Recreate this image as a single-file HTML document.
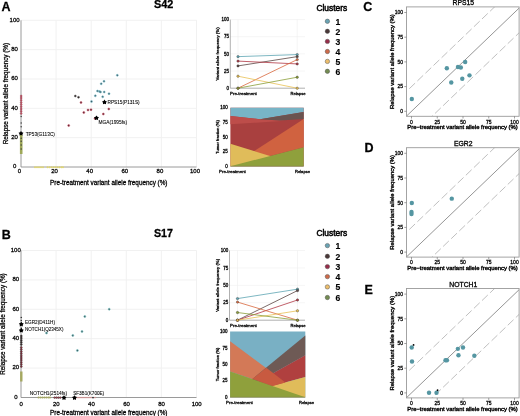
<!DOCTYPE html>
<html><head><meta charset="utf-8"><style>
html,body{margin:0;padding:0;background:#fff;}
svg{display:block;filter:blur(0.35px);}
text{font-family:"Liberation Sans", sans-serif;stroke:#000;stroke-width:0.26px;}
</style></head><body>
<svg width="520" height="416" viewBox="0 0 520 416">
<rect width="520" height="416" fill="#fff"/>
<text x="1.6" y="11.0" font-size="12.5" text-anchor="start" font-weight="bold" fill="#000" >A</text>
<text x="163.6" y="8.2" font-size="10.9" text-anchor="middle" font-weight="bold" fill="#000" >S42</text>
<line x1="56.10" y1="20.30" x2="56.10" y2="167.00" stroke="#efefef" stroke-width="0.9" />
<line x1="21.00" y1="137.66" x2="196.50" y2="137.66" stroke="#efefef" stroke-width="0.9" />
<line x1="91.20" y1="20.30" x2="91.20" y2="167.00" stroke="#efefef" stroke-width="0.9" />
<line x1="21.00" y1="108.32" x2="196.50" y2="108.32" stroke="#efefef" stroke-width="0.9" />
<line x1="126.30" y1="20.30" x2="126.30" y2="167.00" stroke="#efefef" stroke-width="0.9" />
<line x1="21.00" y1="78.98" x2="196.50" y2="78.98" stroke="#efefef" stroke-width="0.9" />
<line x1="161.40" y1="20.30" x2="161.40" y2="167.00" stroke="#efefef" stroke-width="0.9" />
<line x1="21.00" y1="49.64" x2="196.50" y2="49.64" stroke="#efefef" stroke-width="0.9" />
<line x1="196.50" y1="20.30" x2="196.50" y2="167.00" stroke="#efefef" stroke-width="0.9" />
<line x1="21.00" y1="20.30" x2="196.50" y2="20.30" stroke="#efefef" stroke-width="0.9" />
<line x1="21.00" y1="20.30" x2="21.00" y2="167.00" stroke="#8e8e8e" stroke-width="0.9" />
<line x1="21.00" y1="167.00" x2="196.50" y2="167.00" stroke="#8e8e8e" stroke-width="0.9" />
<text x="14.6" y="168.3" font-size="6" text-anchor="middle" font-weight="normal" fill="#000" >0</text>
<text x="19.5" y="173.3" font-size="6" text-anchor="middle" font-weight="normal" fill="#000" >0</text>
<text x="14.6" y="138.96" font-size="6" text-anchor="middle" font-weight="normal" fill="#000" >20</text>
<text x="54.6" y="173.3" font-size="6" text-anchor="middle" font-weight="normal" fill="#000" >20</text>
<text x="14.6" y="109.61999999999999" font-size="6" text-anchor="middle" font-weight="normal" fill="#000" >40</text>
<text x="89.7" y="173.3" font-size="6" text-anchor="middle" font-weight="normal" fill="#000" >40</text>
<text x="14.6" y="80.28" font-size="6" text-anchor="middle" font-weight="normal" fill="#000" >60</text>
<text x="124.8" y="173.3" font-size="6" text-anchor="middle" font-weight="normal" fill="#000" >60</text>
<text x="14.6" y="50.94" font-size="6" text-anchor="middle" font-weight="normal" fill="#000" >80</text>
<text x="159.9" y="173.3" font-size="6" text-anchor="middle" font-weight="normal" fill="#000" >80</text>
<text x="14.6" y="21.600000000000012" font-size="6" text-anchor="middle" font-weight="normal" fill="#000" >100</text>
<text x="195.0" y="173.3" font-size="6" text-anchor="middle" font-weight="normal" fill="#000" >100</text>
<text x="108.75" y="184.6" font-size="6.35" text-anchor="middle" font-weight="normal" fill="#000" >Pre-treatment variant allele frequency (%)</text>
<text transform="translate(7.8,93.65) rotate(-90)" font-size="6.32" text-anchor="middle" font-weight="normal" fill="#000" >Relapse variant allele frequency (%)</text>
<circle cx="117.30" cy="75.30" r="1.0" fill="#3f5d66" stroke="#78c0d0" stroke-width="0.55"/>
<circle cx="104.00" cy="81.30" r="1.0" fill="#3f5d66" stroke="#78c0d0" stroke-width="0.55"/>
<circle cx="101.20" cy="83.80" r="1.0" fill="#3f5d66" stroke="#78c0d0" stroke-width="0.55"/>
<circle cx="97.50" cy="91.00" r="1.0" fill="#3f5d66" stroke="#78c0d0" stroke-width="0.55"/>
<circle cx="99.50" cy="91.50" r="1.0" fill="#3f5d66" stroke="#78c0d0" stroke-width="0.55"/>
<circle cx="100.50" cy="92.00" r="1.0" fill="#3f5d66" stroke="#78c0d0" stroke-width="0.55"/>
<circle cx="104.20" cy="92.00" r="1.0" fill="#3f5d66" stroke="#78c0d0" stroke-width="0.55"/>
<circle cx="109.00" cy="93.70" r="1.0" fill="#3f5d66" stroke="#78c0d0" stroke-width="0.55"/>
<circle cx="95.30" cy="95.80" r="1.0" fill="#3f5d66" stroke="#78c0d0" stroke-width="0.55"/>
<circle cx="102.70" cy="96.80" r="1.0" fill="#3f5d66" stroke="#78c0d0" stroke-width="0.55"/>
<circle cx="91.50" cy="101.50" r="1.0" fill="#3f5d66" stroke="#78c0d0" stroke-width="0.55"/>
<circle cx="75.30" cy="96.00" r="1.0" fill="#2a2020" stroke="#666" stroke-width="0.5"/>
<circle cx="78.50" cy="97.30" r="1.0" fill="#2a2020" stroke="#666" stroke-width="0.5"/>
<circle cx="81.00" cy="102.50" r="1.0" fill="#5a2030" stroke="#d05a6a" stroke-width="0.55"/>
<circle cx="88.00" cy="110.00" r="1.0" fill="#5a2030" stroke="#d05a6a" stroke-width="0.55"/>
<circle cx="91.00" cy="109.70" r="1.0" fill="#5a2030" stroke="#d05a6a" stroke-width="0.55"/>
<circle cx="83.80" cy="112.50" r="1.0" fill="#5a2030" stroke="#d05a6a" stroke-width="0.55"/>
<circle cx="103.30" cy="114.00" r="1.0" fill="#5a2030" stroke="#d05a6a" stroke-width="0.55"/>
<circle cx="108.80" cy="109.00" r="1.0" fill="#5a2030" stroke="#d05a6a" stroke-width="0.55"/>
<circle cx="68.70" cy="125.50" r="1.0" fill="#5a2030" stroke="#d05a6a" stroke-width="0.55"/>
<circle cx="95.00" cy="118.50" r="1.0" fill="#5a2030" stroke="#d05a6a" stroke-width="0.55"/>
<line x1="21.20" y1="134.80" x2="21.20" y2="154.00" stroke="#9ea858" stroke-width="2.6" />
<circle cx="21.20" cy="96.00" r="1.0" fill="#c25668" stroke="#8a3040" stroke-width="0.3"/>
<circle cx="21.20" cy="98.00" r="1.0" fill="#c25668" stroke="#8a3040" stroke-width="0.3"/>
<circle cx="21.20" cy="100.20" r="1.0" fill="#c25668" stroke="#8a3040" stroke-width="0.3"/>
<circle cx="21.20" cy="102.40" r="1.0" fill="#c25668" stroke="#8a3040" stroke-width="0.3"/>
<circle cx="21.20" cy="104.60" r="1.0" fill="#c25668" stroke="#8a3040" stroke-width="0.3"/>
<circle cx="21.20" cy="106.80" r="1.0" fill="#c25668" stroke="#8a3040" stroke-width="0.3"/>
<circle cx="21.20" cy="109.00" r="1.0" fill="#c25668" stroke="#8a3040" stroke-width="0.3"/>
<circle cx="21.20" cy="111.20" r="1.0" fill="#c25668" stroke="#8a3040" stroke-width="0.3"/>
<circle cx="21.20" cy="113.40" r="1.0" fill="#c25668" stroke="#8a3040" stroke-width="0.3"/>
<circle cx="21.20" cy="116.50" r="0.75" fill="#444" />
<circle cx="21.20" cy="123.00" r="0.75" fill="#444" />
<circle cx="21.20" cy="126.70" r="0.75" fill="#444" />
<circle cx="21.20" cy="138.30" r="0.75" fill="#444" />
<circle cx="21.20" cy="141.20" r="0.75" fill="#444" />
<circle cx="21.20" cy="145.00" r="0.75" fill="#444" />
<circle cx="21.20" cy="149.00" r="0.75" fill="#444" />
<circle cx="35.00" cy="167.20" r="0.95" fill="#e0d670" />
<circle cx="37.00" cy="167.20" r="0.95" fill="#e0d670" />
<circle cx="39.00" cy="167.20" r="0.95" fill="#e0d670" />
<circle cx="41.00" cy="167.20" r="0.95" fill="#e0d670" />
<circle cx="43.00" cy="167.20" r="0.95" fill="#e0d670" />
<circle cx="47.50" cy="167.20" r="0.95" fill="#e0d670" />
<circle cx="49.50" cy="167.20" r="0.95" fill="#e0d670" />
<circle cx="51.50" cy="167.20" r="0.95" fill="#e0d670" />
<circle cx="53.50" cy="167.20" r="0.95" fill="#e0d670" />
<circle cx="55.50" cy="167.20" r="0.95" fill="#e0d670" />
<circle cx="57.50" cy="167.20" r="0.95" fill="#e0d670" />
<circle cx="59.50" cy="167.20" r="0.95" fill="#e0d670" />
<circle cx="61.50" cy="167.20" r="0.95" fill="#e0d670" />
<circle cx="63.00" cy="167.20" r="0.95" fill="#e0d670" />
<polygon points="104.50,99.60 105.42,100.94 106.97,101.40 105.98,102.68 106.03,104.30 104.50,103.76 102.97,104.30 103.02,102.68 102.03,101.40 103.58,100.94" fill="#000" />
<polygon points="96.50,115.40 97.42,116.74 98.97,117.20 97.98,118.48 98.03,120.10 96.50,119.56 94.97,120.10 95.02,118.48 94.03,117.20 95.58,116.74" fill="#000" />
<polygon points="21.00,130.90 21.92,132.24 23.47,132.70 22.48,133.98 22.53,135.60 21.00,135.06 19.47,135.60 19.52,133.98 18.53,132.70 20.08,132.24" fill="#000" />
<text x="107.6" y="103.7" font-size="4.7" text-anchor="start" font-weight="normal" fill="#000" style="stroke-width:0.08px">RPS15(P131S)</text>
<text x="98.5" y="123.7" font-size="4.8" text-anchor="start" font-weight="normal" fill="#000" style="stroke-width:0.08px">MGA(1995fs)</text>
<text x="25.7" y="136.0" font-size="4.75" text-anchor="start" font-weight="normal" fill="#000" style="stroke-width:0.08px">TP53(G113C)</text>
<line x1="230.30" y1="71.05" x2="305.00" y2="71.05" stroke="#efefef" stroke-width="0.6" />
<line x1="230.30" y1="53.90" x2="305.00" y2="53.90" stroke="#efefef" stroke-width="0.6" />
<line x1="230.30" y1="36.75" x2="305.00" y2="36.75" stroke="#efefef" stroke-width="0.6" />
<line x1="230.30" y1="19.60" x2="305.00" y2="19.60" stroke="#efefef" stroke-width="0.6" />
<line x1="238.00" y1="19.60" x2="238.00" y2="88.20" stroke="#efefef" stroke-width="0.6" />
<line x1="297.20" y1="19.60" x2="297.20" y2="88.20" stroke="#efefef" stroke-width="0.6" />
<line x1="230.30" y1="19.60" x2="230.30" y2="88.20" stroke="#8e8e8e" stroke-width="0.7" />
<line x1="230.30" y1="88.20" x2="305.00" y2="88.20" stroke="#8e8e8e" stroke-width="0.7" />
<text x="229.10000000000002" y="89.8" font-size="4.5" text-anchor="end" font-weight="normal" fill="#000" >0</text>
<text x="229.10000000000002" y="72.65" font-size="4.5" text-anchor="end" font-weight="normal" fill="#000" >25</text>
<text x="229.10000000000002" y="55.50000000000001" font-size="4.5" text-anchor="end" font-weight="normal" fill="#000" >50</text>
<text x="229.10000000000002" y="38.35" font-size="4.5" text-anchor="end" font-weight="normal" fill="#000" >75</text>
<text x="229.10000000000002" y="21.20000000000001" font-size="4.5" text-anchor="end" font-weight="normal" fill="#000" >100</text>
<line x1="238.00" y1="56.64" x2="297.20" y2="54.59" stroke="#5fa6b4" stroke-width="0.9" stroke-opacity="0.9"/>
<line x1="238.00" y1="65.91" x2="297.20" y2="56.64" stroke="#5d4845" stroke-width="0.9" stroke-opacity="0.9"/>
<line x1="238.00" y1="61.10" x2="297.20" y2="63.92" stroke="#b23a46" stroke-width="0.9" stroke-opacity="0.9"/>
<line x1="238.00" y1="88.20" x2="297.20" y2="59.59" stroke="#d9693f" stroke-width="0.9" stroke-opacity="0.9"/>
<line x1="238.00" y1="76.20" x2="297.20" y2="88.20" stroke="#e9c157" stroke-width="0.9" stroke-opacity="0.9"/>
<line x1="238.00" y1="88.20" x2="297.20" y2="77.22" stroke="#8c9e3a" stroke-width="0.9" stroke-opacity="0.9"/>
<circle cx="238.00" cy="56.64" r="1.2" fill="#5fa6b4" stroke="#333" stroke-width="0.5" stroke-opacity="0.75"/>
<circle cx="297.20" cy="54.59" r="1.2" fill="#5fa6b4" stroke="#333" stroke-width="0.5" stroke-opacity="0.75"/>
<circle cx="238.00" cy="65.91" r="1.2" fill="#5d4845" stroke="#333" stroke-width="0.5" stroke-opacity="0.75"/>
<circle cx="297.20" cy="56.64" r="1.2" fill="#5d4845" stroke="#333" stroke-width="0.5" stroke-opacity="0.75"/>
<circle cx="238.00" cy="61.10" r="1.2" fill="#b23a46" stroke="#333" stroke-width="0.5" stroke-opacity="0.75"/>
<circle cx="297.20" cy="63.92" r="1.2" fill="#b23a46" stroke="#333" stroke-width="0.5" stroke-opacity="0.75"/>
<circle cx="238.00" cy="88.20" r="1.2" fill="#d9693f" stroke="#333" stroke-width="0.5" stroke-opacity="0.75"/>
<circle cx="297.20" cy="59.59" r="1.2" fill="#d9693f" stroke="#333" stroke-width="0.5" stroke-opacity="0.75"/>
<circle cx="238.00" cy="76.20" r="1.2" fill="#e9c157" stroke="#333" stroke-width="0.5" stroke-opacity="0.75"/>
<circle cx="297.20" cy="88.20" r="1.2" fill="#e9c157" stroke="#333" stroke-width="0.5" stroke-opacity="0.75"/>
<circle cx="238.00" cy="88.20" r="1.2" fill="#8c9e3a" stroke="#333" stroke-width="0.5" stroke-opacity="0.75"/>
<circle cx="297.20" cy="77.22" r="1.2" fill="#8c9e3a" stroke="#333" stroke-width="0.5" stroke-opacity="0.75"/>
<text x="230.0" y="95.3" font-size="4.4" text-anchor="start" font-weight="normal" fill="#000" >Pre-treatment</text>
<text x="305.5" y="95.3" font-size="4.1" text-anchor="end" font-weight="normal" fill="#000" >Relapse</text>
<text transform="translate(218.8,53.900000000000006) rotate(-90)" font-size="4.35" text-anchor="middle" font-weight="normal" fill="#000" >Variant allele frequency (%)</text>
<polygon points="230.40,107.80 303.70,107.80 303.70,166.30 230.40,166.30" fill="#a9403f" />
<polygon points="230.40,107.80 303.70,107.80 303.70,111.90 260.00,119.20 230.40,116.00" fill="#78b4c6" />
<polygon points="230.40,116.00 260.00,119.20 285.00,120.80 230.40,124.30" fill="#bd4d4a" />
<polygon points="260.00,119.20 303.70,111.90 303.70,119.10 280.00,120.50" fill="#6a5450" />
<polygon points="230.40,166.30 303.70,119.10 303.70,147.20" fill="#d06240" />
<polygon points="230.40,143.80 303.70,166.30 230.40,166.30" fill="#e0bc5a" />
<polygon points="230.40,166.30 303.70,147.20 303.70,166.30" fill="#8fa03c" />
<line x1="230.40" y1="166.30" x2="303.70" y2="166.30" stroke="#7a7a5a" stroke-width="0.6" />
<text x="227.8" y="167.9" font-size="4.5" text-anchor="end" font-weight="normal" fill="#000" >0</text>
<text x="227.8" y="153.275" font-size="4.5" text-anchor="end" font-weight="normal" fill="#000" >25</text>
<text x="227.8" y="138.65" font-size="4.5" text-anchor="end" font-weight="normal" fill="#000" >50</text>
<text x="227.8" y="124.025" font-size="4.5" text-anchor="end" font-weight="normal" fill="#000" >75</text>
<text x="227.8" y="109.39999999999998" font-size="4.5" text-anchor="end" font-weight="normal" fill="#000" >100</text>
<text x="219.0" y="173.3" font-size="4.4" text-anchor="start" font-weight="normal" fill="#000" >Pre-treatment</text>
<text x="310.0" y="173.3" font-size="4.1" text-anchor="end" font-weight="normal" fill="#000" >Relapse</text>
<text transform="translate(218.9,137.05) rotate(-90)" font-size="4.1" text-anchor="middle" font-weight="normal" fill="#000" >Tumor fraction (%)</text>
<text x="316.4" y="11.200000000000001" font-size="8.4" text-anchor="start" font-weight="normal" fill="#000" style="stroke-width:0.5px">Clusters</text>
<circle cx="327.4" cy="21.3" r="2.2" fill="#6aa3b3" stroke="#505050" stroke-width="0.6" stroke-opacity="0.8"/>
<text x="335.4" y="24.5" font-size="8.6" text-anchor="start" font-weight="bold" fill="#000" style="stroke-width:0.15px">1</text>
<circle cx="327.4" cy="31.3" r="2.2" fill="#4a3838" stroke="#505050" stroke-width="0.6" stroke-opacity="0.8"/>
<text x="335.4" y="34.5" font-size="8.6" text-anchor="start" font-weight="bold" fill="#000" style="stroke-width:0.15px">2</text>
<circle cx="327.4" cy="41.4" r="2.2" fill="#962e4a" stroke="#505050" stroke-width="0.6" stroke-opacity="0.8"/>
<text x="335.4" y="44.6" font-size="8.6" text-anchor="start" font-weight="bold" fill="#000" style="stroke-width:0.15px">3</text>
<circle cx="327.4" cy="51.5" r="2.2" fill="#cc6a4a" stroke="#505050" stroke-width="0.6" stroke-opacity="0.8"/>
<text x="335.4" y="54.7" font-size="8.6" text-anchor="start" font-weight="bold" fill="#000" style="stroke-width:0.15px">4</text>
<circle cx="327.4" cy="61.4" r="2.2" fill="#ebbd6c" stroke="#505050" stroke-width="0.6" stroke-opacity="0.8"/>
<text x="335.4" y="64.6" font-size="8.6" text-anchor="start" font-weight="bold" fill="#000" style="stroke-width:0.15px">5</text>
<circle cx="327.4" cy="71.3" r="2.2" fill="#748c52" stroke="#505050" stroke-width="0.6" stroke-opacity="0.8"/>
<text x="335.4" y="74.5" font-size="8.6" text-anchor="start" font-weight="bold" fill="#000" style="stroke-width:0.15px">6</text>
<text x="1.8" y="239.0" font-size="12.5" text-anchor="start" font-weight="bold" fill="#000" >B</text>
<text x="163.5" y="236.8" font-size="10.7" text-anchor="middle" font-weight="bold" fill="#000" >S17</text>
<line x1="56.10" y1="250.50" x2="56.10" y2="397.50" stroke="#efefef" stroke-width="0.9" />
<line x1="21.00" y1="368.10" x2="196.50" y2="368.10" stroke="#efefef" stroke-width="0.9" />
<line x1="91.20" y1="250.50" x2="91.20" y2="397.50" stroke="#efefef" stroke-width="0.9" />
<line x1="21.00" y1="338.70" x2="196.50" y2="338.70" stroke="#efefef" stroke-width="0.9" />
<line x1="126.30" y1="250.50" x2="126.30" y2="397.50" stroke="#efefef" stroke-width="0.9" />
<line x1="21.00" y1="309.30" x2="196.50" y2="309.30" stroke="#efefef" stroke-width="0.9" />
<line x1="161.40" y1="250.50" x2="161.40" y2="397.50" stroke="#efefef" stroke-width="0.9" />
<line x1="21.00" y1="279.90" x2="196.50" y2="279.90" stroke="#efefef" stroke-width="0.9" />
<line x1="196.50" y1="250.50" x2="196.50" y2="397.50" stroke="#efefef" stroke-width="0.9" />
<line x1="21.00" y1="250.50" x2="196.50" y2="250.50" stroke="#efefef" stroke-width="0.9" />
<line x1="21.00" y1="250.50" x2="21.00" y2="397.50" stroke="#8e8e8e" stroke-width="0.9" />
<line x1="21.00" y1="397.50" x2="196.50" y2="397.50" stroke="#8e8e8e" stroke-width="0.9" />
<text x="15.8" y="398.8" font-size="6" text-anchor="middle" font-weight="normal" fill="#000" >0</text>
<text x="21.2" y="405.5" font-size="6" text-anchor="middle" font-weight="normal" fill="#000" >0</text>
<text x="15.8" y="369.40000000000003" font-size="6" text-anchor="middle" font-weight="normal" fill="#000" >20</text>
<text x="56.300000000000004" y="405.5" font-size="6" text-anchor="middle" font-weight="normal" fill="#000" >20</text>
<text x="15.8" y="340.0" font-size="6" text-anchor="middle" font-weight="normal" fill="#000" >40</text>
<text x="91.4" y="405.5" font-size="6" text-anchor="middle" font-weight="normal" fill="#000" >40</text>
<text x="15.8" y="310.6" font-size="6" text-anchor="middle" font-weight="normal" fill="#000" >60</text>
<text x="126.5" y="405.5" font-size="6" text-anchor="middle" font-weight="normal" fill="#000" >60</text>
<text x="15.8" y="281.2" font-size="6" text-anchor="middle" font-weight="normal" fill="#000" >80</text>
<text x="161.6" y="405.5" font-size="6" text-anchor="middle" font-weight="normal" fill="#000" >80</text>
<text x="15.8" y="251.8" font-size="6" text-anchor="middle" font-weight="normal" fill="#000" >100</text>
<text x="196.7" y="405.5" font-size="6" text-anchor="middle" font-weight="normal" fill="#000" >100</text>
<text x="108.75" y="414.6" font-size="6.35" text-anchor="middle" font-weight="normal" fill="#000" >Pre-treatment variant allele frequency (%)</text>
<text transform="translate(4.6,324.0) rotate(-90)" font-size="6.32" text-anchor="middle" font-weight="normal" fill="#000" >Relapse variant allele frequency (%)</text>
<circle cx="109.20" cy="309.20" r="1.0" fill="#3f5d62" stroke="#70c0c0" stroke-width="0.55"/>
<circle cx="84.80" cy="316.50" r="1.0" fill="#3f5d62" stroke="#70c0c0" stroke-width="0.55"/>
<circle cx="82.00" cy="331.50" r="1.0" fill="#3f5d62" stroke="#70c0c0" stroke-width="0.55"/>
<circle cx="72.80" cy="335.40" r="1.0" fill="#3f5d62" stroke="#70c0c0" stroke-width="0.55"/>
<circle cx="77.40" cy="350.50" r="1.0" fill="#3f5d62" stroke="#70c0c0" stroke-width="0.55"/>
<circle cx="46.50" cy="333.00" r="1.0" fill="#3f5d62" stroke="#70c0c0" stroke-width="0.55"/>
<line x1="21.30" y1="371.50" x2="21.30" y2="381.50" stroke="#a5a860" stroke-width="2.4" />
<circle cx="21.30" cy="317.50" r="0.8" fill="#333" />
<circle cx="21.30" cy="320.50" r="0.8" fill="#333" />
<circle cx="21.30" cy="328.30" r="0.8" fill="#333" />
<circle cx="21.30" cy="336.00" r="1.0" fill="#3a2c2c" stroke="#2a2a2a" stroke-width="0.4"/>
<circle cx="21.30" cy="338.10" r="1.0" fill="#3a2c2c" stroke="#2a2a2a" stroke-width="0.4"/>
<circle cx="21.30" cy="340.20" r="1.0" fill="#3a2c2c" stroke="#2a2a2a" stroke-width="0.4"/>
<circle cx="21.30" cy="342.30" r="1.0" fill="#3a2c2c" stroke="#2a2a2a" stroke-width="0.4"/>
<circle cx="21.30" cy="344.40" r="1.0" fill="#3a2c2c" stroke="#2a2a2a" stroke-width="0.4"/>
<circle cx="21.30" cy="347.50" r="1.0" fill="#8c2a3a" stroke="#2a2a2a" stroke-width="0.4"/>
<circle cx="21.30" cy="349.60" r="1.0" fill="#8c2a3a" stroke="#2a2a2a" stroke-width="0.4"/>
<circle cx="21.30" cy="351.70" r="1.0" fill="#8c2a3a" stroke="#2a2a2a" stroke-width="0.4"/>
<circle cx="21.30" cy="353.80" r="1.0" fill="#8c2a3a" stroke="#2a2a2a" stroke-width="0.4"/>
<circle cx="21.30" cy="355.90" r="1.0" fill="#8c2a3a" stroke="#2a2a2a" stroke-width="0.4"/>
<circle cx="21.30" cy="358.00" r="1.0" fill="#8c2a3a" stroke="#2a2a2a" stroke-width="0.4"/>
<circle cx="21.30" cy="360.10" r="1.0" fill="#8c2a3a" stroke="#2a2a2a" stroke-width="0.4"/>
<circle cx="21.30" cy="362.20" r="1.0" fill="#8c2a3a" stroke="#2a2a2a" stroke-width="0.4"/>
<circle cx="21.30" cy="364.30" r="1.0" fill="#8c2a3a" stroke="#2a2a2a" stroke-width="0.4"/>
<circle cx="21.30" cy="366.40" r="1.0" fill="#8c2a3a" stroke="#2a2a2a" stroke-width="0.4"/>
<circle cx="38.50" cy="397.60" r="1.0" fill="#a5a860" />
<circle cx="40.50" cy="397.60" r="1.0" fill="#a5a860" />
<circle cx="42.50" cy="397.60" r="1.0" fill="#a5a860" />
<circle cx="44.50" cy="397.60" r="1.0" fill="#a5a860" />
<circle cx="46.50" cy="397.60" r="1.0" fill="#a5a860" />
<circle cx="48.50" cy="397.60" r="1.0" fill="#a5a860" />
<circle cx="50.00" cy="397.60" r="1.0" fill="#a5a860" />
<circle cx="54.60" cy="397.60" r="0.9" fill="#b04050" stroke="#2a2a2a" stroke-width="0.4"/>
<circle cx="56.50" cy="397.60" r="0.9" fill="#b04050" stroke="#2a2a2a" stroke-width="0.4"/>
<circle cx="58.40" cy="397.60" r="0.9" fill="#b04050" stroke="#2a2a2a" stroke-width="0.4"/>
<circle cx="60.30" cy="397.60" r="0.9" fill="#b04050" stroke="#2a2a2a" stroke-width="0.4"/>
<circle cx="77.00" cy="397.60" r="0.8" fill="#d89090" />
<circle cx="79.00" cy="397.60" r="0.8" fill="#d89090" />
<circle cx="81.00" cy="397.60" r="0.8" fill="#d89090" />
<circle cx="83.00" cy="397.60" r="0.8" fill="#d89090" />
<circle cx="85.00" cy="397.60" r="0.8" fill="#d89090" />
<circle cx="87.00" cy="397.60" r="0.8" fill="#d89090" />
<circle cx="89.00" cy="397.60" r="0.8" fill="#d89090" />
<circle cx="91.00" cy="397.60" r="0.8" fill="#d89090" />
<circle cx="95.00" cy="397.60" r="0.8" fill="#d89090" />
<circle cx="93.00" cy="397.60" r="0.9" fill="#333" />
<polygon points="21.30,321.70 22.22,323.04 23.77,323.50 22.78,324.78 22.83,326.40 21.30,325.86 19.77,326.40 19.82,324.78 18.83,323.50 20.38,323.04" fill="#000" />
<polygon points="21.30,327.90 22.22,329.24 23.77,329.70 22.78,330.98 22.83,332.60 21.30,332.06 19.77,332.60 19.82,330.98 18.83,329.70 20.38,329.24" fill="#000" />
<polygon points="64.00,395.20 64.92,396.54 66.47,397.00 65.48,398.28 65.53,399.90 64.00,399.36 62.47,399.90 62.52,398.28 61.53,397.00 63.08,396.54" fill="#000" />
<polygon points="74.50,395.20 75.42,396.54 76.97,397.00 75.98,398.28 76.03,399.90 74.50,399.36 72.97,399.90 73.02,398.28 72.03,397.00 73.58,396.54" fill="#000" />
<text x="25.0" y="324.0" font-size="4.67" text-anchor="start" font-weight="normal" fill="#000" style="stroke-width:0.08px">EGR2(D411H)</text>
<text x="25.0" y="330.5" font-size="4.56" text-anchor="start" font-weight="normal" fill="#000" style="stroke-width:0.08px">NOTCH1(Q2345X)</text>
<text x="29.8" y="395.0" font-size="4.8" text-anchor="start" font-weight="normal" fill="#000" style="stroke-width:0.08px">NOTCH1(2514fs)</text>
<text x="73.2" y="395.0" font-size="4.6" text-anchor="start" font-weight="normal" fill="#000" style="stroke-width:0.08px">SF3B1(K700E)</text>
<line x1="229.50" y1="302.77" x2="305.00" y2="302.77" stroke="#efefef" stroke-width="0.6" />
<line x1="229.50" y1="285.35" x2="305.00" y2="285.35" stroke="#efefef" stroke-width="0.6" />
<line x1="229.50" y1="267.93" x2="305.00" y2="267.93" stroke="#efefef" stroke-width="0.6" />
<line x1="229.50" y1="250.50" x2="305.00" y2="250.50" stroke="#efefef" stroke-width="0.6" />
<line x1="237.50" y1="250.50" x2="237.50" y2="320.20" stroke="#efefef" stroke-width="0.6" />
<line x1="297.50" y1="250.50" x2="297.50" y2="320.20" stroke="#efefef" stroke-width="0.6" />
<line x1="229.50" y1="250.50" x2="229.50" y2="320.20" stroke="#8e8e8e" stroke-width="0.7" />
<line x1="229.50" y1="320.20" x2="305.00" y2="320.20" stroke="#8e8e8e" stroke-width="0.7" />
<text x="228.3" y="321.8" font-size="4.5" text-anchor="end" font-weight="normal" fill="#000" >0</text>
<text x="228.3" y="304.375" font-size="4.5" text-anchor="end" font-weight="normal" fill="#000" >25</text>
<text x="228.3" y="286.95000000000005" font-size="4.5" text-anchor="end" font-weight="normal" fill="#000" >50</text>
<text x="228.3" y="269.52500000000003" font-size="4.5" text-anchor="end" font-weight="normal" fill="#000" >75</text>
<text x="228.3" y="252.1" font-size="4.5" text-anchor="end" font-weight="normal" fill="#000" >100</text>
<line x1="237.50" y1="298.59" x2="297.50" y2="289.18" stroke="#5fa6b4" stroke-width="0.9" stroke-opacity="0.9"/>
<line x1="237.50" y1="320.20" x2="297.50" y2="290.58" stroke="#5d4845" stroke-width="0.9" stroke-opacity="0.9"/>
<line x1="237.50" y1="320.20" x2="297.50" y2="299.99" stroke="#b23a46" stroke-width="0.9" stroke-opacity="0.9"/>
<line x1="237.50" y1="302.08" x2="297.50" y2="320.20" stroke="#d9693f" stroke-width="0.9" stroke-opacity="0.9"/>
<line x1="237.50" y1="320.20" x2="297.50" y2="310.79" stroke="#e9c157" stroke-width="0.9" stroke-opacity="0.9"/>
<line x1="237.50" y1="312.53" x2="297.50" y2="320.20" stroke="#8c9e3a" stroke-width="0.9" stroke-opacity="0.9"/>
<circle cx="237.50" cy="298.59" r="1.2" fill="#5fa6b4" stroke="#333" stroke-width="0.5" stroke-opacity="0.75"/>
<circle cx="297.50" cy="289.18" r="1.2" fill="#5fa6b4" stroke="#333" stroke-width="0.5" stroke-opacity="0.75"/>
<circle cx="237.50" cy="320.20" r="1.2" fill="#5d4845" stroke="#333" stroke-width="0.5" stroke-opacity="0.75"/>
<circle cx="297.50" cy="290.58" r="1.2" fill="#5d4845" stroke="#333" stroke-width="0.5" stroke-opacity="0.75"/>
<circle cx="237.50" cy="320.20" r="1.2" fill="#b23a46" stroke="#333" stroke-width="0.5" stroke-opacity="0.75"/>
<circle cx="297.50" cy="299.99" r="1.2" fill="#b23a46" stroke="#333" stroke-width="0.5" stroke-opacity="0.75"/>
<circle cx="237.50" cy="302.08" r="1.2" fill="#d9693f" stroke="#333" stroke-width="0.5" stroke-opacity="0.75"/>
<circle cx="297.50" cy="320.20" r="1.2" fill="#d9693f" stroke="#333" stroke-width="0.5" stroke-opacity="0.75"/>
<circle cx="237.50" cy="320.20" r="1.2" fill="#e9c157" stroke="#333" stroke-width="0.5" stroke-opacity="0.75"/>
<circle cx="297.50" cy="310.79" r="1.2" fill="#e9c157" stroke="#333" stroke-width="0.5" stroke-opacity="0.75"/>
<circle cx="237.50" cy="312.53" r="1.2" fill="#8c9e3a" stroke="#333" stroke-width="0.5" stroke-opacity="0.75"/>
<circle cx="297.50" cy="320.20" r="1.2" fill="#8c9e3a" stroke="#333" stroke-width="0.5" stroke-opacity="0.75"/>
<text x="230.0" y="326.6" font-size="4.4" text-anchor="start" font-weight="normal" fill="#000" >Pre-treatment</text>
<text x="305.5" y="326.6" font-size="4.1" text-anchor="end" font-weight="normal" fill="#000" >Relapse</text>
<text transform="translate(218.8,285.35) rotate(-90)" font-size="4.35" text-anchor="middle" font-weight="normal" fill="#000" >Variant allele frequency (%)</text>
<polygon points="230.10,331.50 305.30,331.50 305.30,397.30 230.10,397.30" fill="#79b0c4" />
<polygon points="230.10,341.20 230.10,371.50 305.30,397.30" fill="#d37957" />
<polygon points="230.10,397.30 305.30,335.60 305.30,355.20" fill="#6e5a55" />
<polygon points="230.10,397.30 305.30,355.20 305.30,377.00" fill="#b0403f" />
<polygon points="230.10,397.30 305.30,377.00 305.30,397.30" fill="#e0bc5a" />
<polygon points="266.30,367.70 252.30,379.10 272.30,385.90 285.40,382.50" fill="#c85a40" />
<polygon points="230.10,371.50 230.10,397.30 305.30,397.30" fill="#8fa03c" />
<line x1="230.10" y1="397.30" x2="305.30" y2="397.30" stroke="#7a7a5a" stroke-width="0.6" />
<text x="227.5" y="398.90000000000003" font-size="4.5" text-anchor="end" font-weight="normal" fill="#000" >0</text>
<text x="227.5" y="382.45000000000005" font-size="4.5" text-anchor="end" font-weight="normal" fill="#000" >25</text>
<text x="227.5" y="366.0" font-size="4.5" text-anchor="end" font-weight="normal" fill="#000" >50</text>
<text x="227.5" y="349.55" font-size="4.5" text-anchor="end" font-weight="normal" fill="#000" >75</text>
<text x="227.5" y="333.1" font-size="4.5" text-anchor="end" font-weight="normal" fill="#000" >100</text>
<text x="226.0" y="404.3" font-size="4.4" text-anchor="start" font-weight="normal" fill="#000" >Pre-treatment</text>
<text x="314.0" y="404.3" font-size="4.1" text-anchor="end" font-weight="normal" fill="#000" >Relapse</text>
<text transform="translate(218.8,364.4) rotate(-90)" font-size="4.1" text-anchor="middle" font-weight="normal" fill="#000" >Tumor fraction (%)</text>
<text x="316.4" y="235.9" font-size="8.4" text-anchor="start" font-weight="normal" fill="#000" style="stroke-width:0.5px">Clusters</text>
<circle cx="327.4" cy="245.6" r="2.2" fill="#6aa3b3" stroke="#505050" stroke-width="0.6" stroke-opacity="0.8"/>
<text x="335.4" y="248.79999999999998" font-size="8.6" text-anchor="start" font-weight="bold" fill="#000" style="stroke-width:0.15px">1</text>
<circle cx="327.4" cy="256.3" r="2.2" fill="#4a3838" stroke="#505050" stroke-width="0.6" stroke-opacity="0.8"/>
<text x="335.4" y="259.5" font-size="8.6" text-anchor="start" font-weight="bold" fill="#000" style="stroke-width:0.15px">2</text>
<circle cx="327.4" cy="266.6" r="2.2" fill="#962e4a" stroke="#505050" stroke-width="0.6" stroke-opacity="0.8"/>
<text x="335.4" y="269.8" font-size="8.6" text-anchor="start" font-weight="bold" fill="#000" style="stroke-width:0.15px">3</text>
<circle cx="327.4" cy="276.6" r="2.2" fill="#cc6a4a" stroke="#505050" stroke-width="0.6" stroke-opacity="0.8"/>
<text x="335.4" y="279.8" font-size="8.6" text-anchor="start" font-weight="bold" fill="#000" style="stroke-width:0.15px">4</text>
<circle cx="327.4" cy="286.9" r="2.2" fill="#ebbd6c" stroke="#505050" stroke-width="0.6" stroke-opacity="0.8"/>
<text x="335.4" y="290.09999999999997" font-size="8.6" text-anchor="start" font-weight="bold" fill="#000" style="stroke-width:0.15px">5</text>
<circle cx="327.4" cy="297.5" r="2.2" fill="#748c52" stroke="#505050" stroke-width="0.6" stroke-opacity="0.8"/>
<text x="335.4" y="300.7" font-size="8.6" text-anchor="start" font-weight="bold" fill="#000" style="stroke-width:0.15px">6</text>
<text x="363.2" y="11.4" font-size="12.5" text-anchor="start" font-weight="bold" fill="#000" >C</text>
<text x="364.5" y="152.0" font-size="12.5" text-anchor="start" font-weight="bold" fill="#000" >D</text>
<text x="364.5" y="294.2" font-size="12.5" text-anchor="start" font-weight="bold" fill="#000" >E</text>
<clipPath id="cl0"><rect x="406.5" y="6.9" width="112.60000000000002" height="109.39999999999999"/></clipPath>
<line x1="401.20" y1="121.18" x2="524.80" y2="2.62" stroke="#7a7a7a" stroke-width="0.8" clip-path="url(#cl0)"/>
<line x1="401.20" y1="96.48" x2="524.80" y2="-22.08" stroke="#b8b8b8" stroke-width="0.9" clip-path="url(#cl0)" stroke-dasharray="8 3.2"/>
<line x1="426.95" y1="121.18" x2="550.55" y2="2.62" stroke="#b8b8b8" stroke-width="0.9" clip-path="url(#cl0)" stroke-dasharray="8 3.2"/>
<rect x="406.5" y="6.9" width="112.60000000000002" height="109.39999999999999" fill="none" stroke="#9a9a9a" stroke-width="0.9"/>
<line x1="404.30" y1="111.30" x2="406.50" y2="111.30" stroke="#777" stroke-width="0.7" />
<text x="403.1" y="113.1" font-size="5" text-anchor="end" font-weight="normal" fill="#000" >0</text>
<line x1="411.50" y1="116.30" x2="411.50" y2="118.50" stroke="#777" stroke-width="0.7" />
<text x="411.5" y="123.6" font-size="5" text-anchor="middle" font-weight="normal" fill="#000" >0</text>
<line x1="404.30" y1="86.60" x2="406.50" y2="86.60" stroke="#777" stroke-width="0.7" />
<text x="403.1" y="88.39999999999999" font-size="5" text-anchor="end" font-weight="normal" fill="#000" >25</text>
<line x1="437.25" y1="116.30" x2="437.25" y2="118.50" stroke="#777" stroke-width="0.7" />
<text x="437.25" y="123.6" font-size="5" text-anchor="middle" font-weight="normal" fill="#000" >25</text>
<line x1="404.30" y1="61.90" x2="406.50" y2="61.90" stroke="#777" stroke-width="0.7" />
<text x="403.1" y="63.699999999999996" font-size="5" text-anchor="end" font-weight="normal" fill="#000" >50</text>
<line x1="463.00" y1="116.30" x2="463.00" y2="118.50" stroke="#777" stroke-width="0.7" />
<text x="463.0" y="123.6" font-size="5" text-anchor="middle" font-weight="normal" fill="#000" >50</text>
<line x1="404.30" y1="37.20" x2="406.50" y2="37.20" stroke="#777" stroke-width="0.7" />
<text x="403.1" y="39.0" font-size="5" text-anchor="end" font-weight="normal" fill="#000" >75</text>
<line x1="488.75" y1="116.30" x2="488.75" y2="118.50" stroke="#777" stroke-width="0.7" />
<text x="488.75" y="123.6" font-size="5" text-anchor="middle" font-weight="normal" fill="#000" >75</text>
<line x1="404.30" y1="12.50" x2="406.50" y2="12.50" stroke="#777" stroke-width="0.7" />
<text x="403.1" y="14.3" font-size="5" text-anchor="end" font-weight="normal" fill="#000" >100</text>
<line x1="514.50" y1="116.30" x2="514.50" y2="118.50" stroke="#777" stroke-width="0.7" />
<text x="514.5" y="123.6" font-size="5" text-anchor="middle" font-weight="normal" fill="#000" >100</text>
<text x="462.5" y="129.3" font-size="5.9" text-anchor="middle" font-weight="normal" fill="#000" style="stroke-width:0.36px">Pre−treatment variant allele frequency (%)</text>
<text transform="translate(394.1,61.6) rotate(-90)" font-size="5.9" text-anchor="middle" font-weight="normal" fill="#000" style="stroke-width:0.32px">Relapse variant allele frequency (%)</text>
<text x="463.3" y="5.1000000000000005" font-size="6.8" text-anchor="middle" font-weight="normal" fill="#000" style="stroke-width:0.3px">RPS15</text>
<circle cx="411.81" cy="99.05" r="2.2" fill="#5596a2" />
<circle cx="446.83" cy="68.22" r="2.2" fill="#5596a2" />
<circle cx="457.95" cy="67.04" r="2.2" fill="#5596a2" />
<circle cx="460.84" cy="67.53" r="2.2" fill="#5596a2" />
<circle cx="465.16" cy="62.00" r="2.2" fill="#5596a2" />
<circle cx="469.49" cy="75.34" r="2.2" fill="#5596a2" />
<circle cx="462.28" cy="78.79" r="2.2" fill="#5596a2" />
<circle cx="451.26" cy="82.55" r="2.2" fill="#5596a2" />
<clipPath id="cl140"><rect x="406.5" y="147.70000000000002" width="112.60000000000002" height="109.4"/></clipPath>
<line x1="401.20" y1="261.98" x2="524.80" y2="143.42" stroke="#7a7a7a" stroke-width="0.8" clip-path="url(#cl140)"/>
<line x1="401.20" y1="237.28" x2="524.80" y2="118.72" stroke="#b8b8b8" stroke-width="0.9" clip-path="url(#cl140)" stroke-dasharray="8 3.2"/>
<line x1="426.95" y1="261.98" x2="550.55" y2="143.42" stroke="#b8b8b8" stroke-width="0.9" clip-path="url(#cl140)" stroke-dasharray="8 3.2"/>
<rect x="406.5" y="147.70000000000002" width="112.60000000000002" height="109.4" fill="none" stroke="#9a9a9a" stroke-width="0.9"/>
<line x1="404.30" y1="252.10" x2="406.50" y2="252.10" stroke="#777" stroke-width="0.7" />
<text x="403.1" y="253.90000000000003" font-size="5" text-anchor="end" font-weight="normal" fill="#000" >0</text>
<line x1="411.50" y1="257.10" x2="411.50" y2="259.30" stroke="#777" stroke-width="0.7" />
<text x="411.5" y="264.40000000000003" font-size="5" text-anchor="middle" font-weight="normal" fill="#000" >0</text>
<line x1="404.30" y1="227.40" x2="406.50" y2="227.40" stroke="#777" stroke-width="0.7" />
<text x="403.1" y="229.20000000000005" font-size="5" text-anchor="end" font-weight="normal" fill="#000" >25</text>
<line x1="437.25" y1="257.10" x2="437.25" y2="259.30" stroke="#777" stroke-width="0.7" />
<text x="437.25" y="264.40000000000003" font-size="5" text-anchor="middle" font-weight="normal" fill="#000" >25</text>
<line x1="404.30" y1="202.70" x2="406.50" y2="202.70" stroke="#777" stroke-width="0.7" />
<text x="403.1" y="204.50000000000003" font-size="5" text-anchor="end" font-weight="normal" fill="#000" >50</text>
<line x1="463.00" y1="257.10" x2="463.00" y2="259.30" stroke="#777" stroke-width="0.7" />
<text x="463.0" y="264.40000000000003" font-size="5" text-anchor="middle" font-weight="normal" fill="#000" >50</text>
<line x1="404.30" y1="178.00" x2="406.50" y2="178.00" stroke="#777" stroke-width="0.7" />
<text x="403.1" y="179.80000000000004" font-size="5" text-anchor="end" font-weight="normal" fill="#000" >75</text>
<line x1="488.75" y1="257.10" x2="488.75" y2="259.30" stroke="#777" stroke-width="0.7" />
<text x="488.75" y="264.40000000000003" font-size="5" text-anchor="middle" font-weight="normal" fill="#000" >75</text>
<line x1="404.30" y1="153.30" x2="406.50" y2="153.30" stroke="#777" stroke-width="0.7" />
<text x="403.1" y="155.10000000000002" font-size="5" text-anchor="end" font-weight="normal" fill="#000" >100</text>
<line x1="514.50" y1="257.10" x2="514.50" y2="259.30" stroke="#777" stroke-width="0.7" />
<text x="514.5" y="264.40000000000003" font-size="5" text-anchor="middle" font-weight="normal" fill="#000" >100</text>
<text x="462.5" y="270.1" font-size="5.9" text-anchor="middle" font-weight="normal" fill="#000" style="stroke-width:0.36px">Pre−treatment variant allele frequency (%)</text>
<text transform="translate(394.1,202.40000000000003) rotate(-90)" font-size="5.9" text-anchor="middle" font-weight="normal" fill="#000" style="stroke-width:0.32px">Relapse variant allele frequency (%)</text>
<text x="463.3" y="145.9" font-size="6.8" text-anchor="middle" font-weight="normal" fill="#000" style="stroke-width:0.3px">EGR2</text>
<circle cx="411.81" cy="203.00" r="2.2" fill="#5596a2" />
<circle cx="411.50" cy="211.99" r="2.2" fill="#5596a2" />
<circle cx="411.50" cy="213.96" r="2.2" fill="#5596a2" />
<circle cx="451.77" cy="198.65" r="2.2" fill="#5596a2" />
<clipPath id="cl281"><rect x="406.5" y="288.5" width="112.60000000000002" height="109.40000000000003"/></clipPath>
<line x1="401.20" y1="402.78" x2="524.80" y2="284.22" stroke="#7a7a7a" stroke-width="0.8" clip-path="url(#cl281)"/>
<line x1="401.20" y1="378.08" x2="524.80" y2="259.52" stroke="#b8b8b8" stroke-width="0.9" clip-path="url(#cl281)" stroke-dasharray="8 3.2"/>
<line x1="426.95" y1="402.78" x2="550.55" y2="284.22" stroke="#b8b8b8" stroke-width="0.9" clip-path="url(#cl281)" stroke-dasharray="8 3.2"/>
<rect x="406.5" y="288.5" width="112.60000000000002" height="109.40000000000003" fill="none" stroke="#9a9a9a" stroke-width="0.9"/>
<line x1="404.30" y1="392.90" x2="406.50" y2="392.90" stroke="#777" stroke-width="0.7" />
<text x="403.1" y="394.70000000000005" font-size="5" text-anchor="end" font-weight="normal" fill="#000" >0</text>
<line x1="411.50" y1="397.90" x2="411.50" y2="400.10" stroke="#777" stroke-width="0.7" />
<text x="411.5" y="405.20000000000005" font-size="5" text-anchor="middle" font-weight="normal" fill="#000" >0</text>
<line x1="404.30" y1="368.20" x2="406.50" y2="368.20" stroke="#777" stroke-width="0.7" />
<text x="403.1" y="370.00000000000006" font-size="5" text-anchor="end" font-weight="normal" fill="#000" >25</text>
<line x1="437.25" y1="397.90" x2="437.25" y2="400.10" stroke="#777" stroke-width="0.7" />
<text x="437.25" y="405.20000000000005" font-size="5" text-anchor="middle" font-weight="normal" fill="#000" >25</text>
<line x1="404.30" y1="343.50" x2="406.50" y2="343.50" stroke="#777" stroke-width="0.7" />
<text x="403.1" y="345.30000000000007" font-size="5" text-anchor="end" font-weight="normal" fill="#000" >50</text>
<line x1="463.00" y1="397.90" x2="463.00" y2="400.10" stroke="#777" stroke-width="0.7" />
<text x="463.0" y="405.20000000000005" font-size="5" text-anchor="middle" font-weight="normal" fill="#000" >50</text>
<line x1="404.30" y1="318.80" x2="406.50" y2="318.80" stroke="#777" stroke-width="0.7" />
<text x="403.1" y="320.6000000000001" font-size="5" text-anchor="end" font-weight="normal" fill="#000" >75</text>
<line x1="488.75" y1="397.90" x2="488.75" y2="400.10" stroke="#777" stroke-width="0.7" />
<text x="488.75" y="405.20000000000005" font-size="5" text-anchor="middle" font-weight="normal" fill="#000" >75</text>
<line x1="404.30" y1="294.10" x2="406.50" y2="294.10" stroke="#777" stroke-width="0.7" />
<text x="403.1" y="295.90000000000003" font-size="5" text-anchor="end" font-weight="normal" fill="#000" >100</text>
<line x1="514.50" y1="397.90" x2="514.50" y2="400.10" stroke="#777" stroke-width="0.7" />
<text x="514.5" y="405.20000000000005" font-size="5" text-anchor="middle" font-weight="normal" fill="#000" >100</text>
<text x="462.5" y="410.90000000000003" font-size="5.9" text-anchor="middle" font-weight="normal" fill="#000" style="stroke-width:0.36px">Pre−treatment variant allele frequency (%)</text>
<text transform="translate(394.1,343.20000000000005) rotate(-90)" font-size="5.9" text-anchor="middle" font-weight="normal" fill="#000" style="stroke-width:0.32px">Relapse variant allele frequency (%)</text>
<text x="463.3" y="286.7" font-size="6.8" text-anchor="middle" font-weight="normal" fill="#000" style="stroke-width:0.3px">NOTCH1</text>
<circle cx="411.71" cy="347.45" r="2.2" fill="#5596a2" />
<circle cx="412.01" cy="361.48" r="2.2" fill="#5596a2" />
<circle cx="445.49" cy="360.20" r="2.2" fill="#5596a2" />
<circle cx="446.93" cy="360.20" r="2.2" fill="#5596a2" />
<circle cx="457.85" cy="348.84" r="2.2" fill="#5596a2" />
<circle cx="463.00" cy="347.55" r="2.2" fill="#5596a2" />
<circle cx="458.47" cy="355.26" r="2.2" fill="#5596a2" />
<circle cx="474.33" cy="355.75" r="2.2" fill="#5596a2" />
<circle cx="429.01" cy="392.70" r="2.2" fill="#5596a2" />
<circle cx="436.53" cy="392.70" r="2.2" fill="#5596a2" />
<circle cx="413.56" cy="344.88" r="0.9" fill="#000" />
<circle cx="437.56" cy="390.13" r="0.9" fill="#000" />
</svg></body></html>
